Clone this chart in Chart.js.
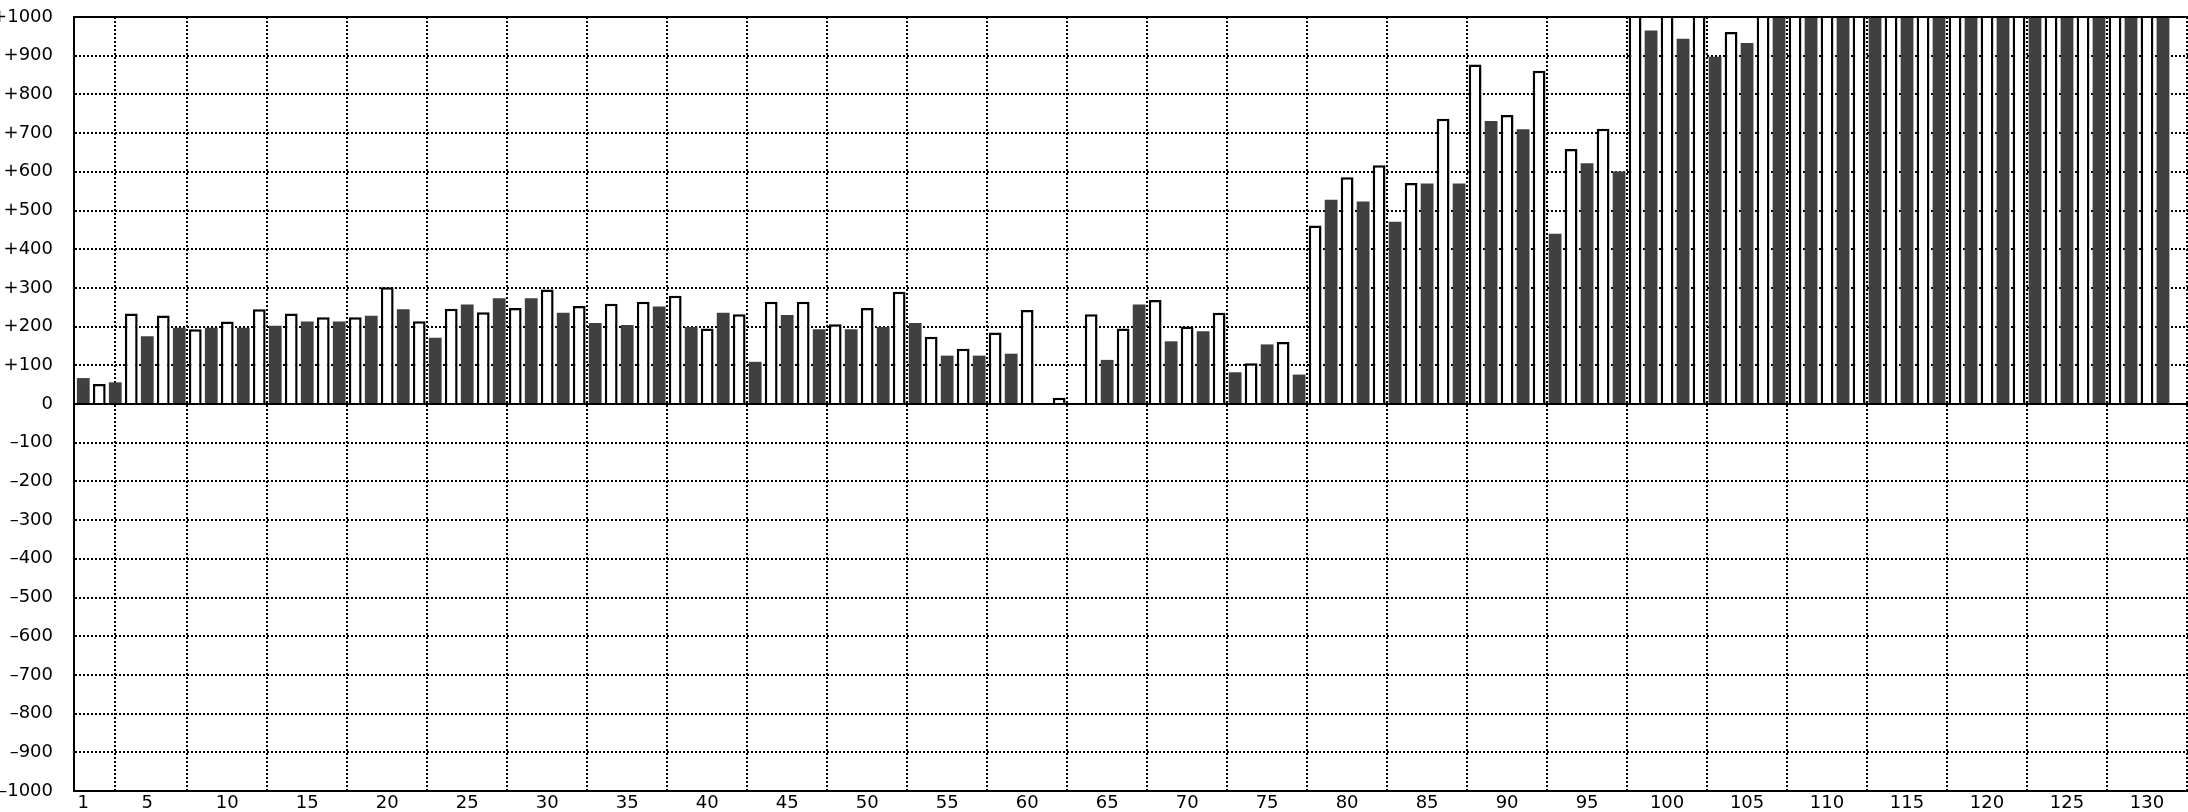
<!DOCTYPE html>
<html>
<head>
<meta charset="utf-8">
<script src="https://cdn.jsdelivr.net/npm/chart.js@4"></script>
<style>
  html, body { margin: 0; padding: 0; background: #fff; overflow: hidden; }
  #wrap { position: absolute; left: -20px; top: 0; width: 2231px; height: 812px; }
</style>
</head>
<body>
<div id="wrap"><canvas id="chart"></canvas></div>
<script>
const categories = []
for (let i = 1; i <= 131; i++) categories.push(i)

// values; bars above +1000 run off the top and are clipped
const values = [
  67, 52, 56, 234, 175, 229, 197, 193, 197, 213,
  197, 245, 202, 234, 213, 224, 213, 224, 228, 302,
  245, 214, 171, 246, 257, 237, 273, 248, 273, 296,
  236, 253, 209, 259, 204, 264, 252, 280, 199, 195,
  236, 232, 109, 264, 230, 264, 193, 206, 193, 248,
  199, 290, 209, 174, 125, 143, 125, 185, 130, 243,
  0, 16, 0, 232, 114, 195, 257, 269, 162, 200,
  188, 236, 82, 105, 154, 160, 76, 461, 528, 586,
  523, 617, 471, 571, 570, 737, 570, 877, 731, 747,
  710, 861, 440, 659, 622, 711, 601, 1050, 965, 1050,
  944, 1050, 897, 961, 933, 1050, 1050, 1050, 1050, 1050,
  1050, 1050, 1050, 1050, 1050, 1050, 1050, 1050, 1050, 1050,
  1050, 1050, 1050, 1050, 1050, 1050, 1050, 1050, 1050, 1050,
  1050
]

const xTicks = [1, 5, 10, 15, 20, 25, 30, 35, 40, 45, 50, 55, 60, 65, 70, 75, 80,
  85, 90, 95, 100, 105, 110, 115, 120, 125, 130]

const FONT = { family: 'DejaVu Sans', size: 18 }

const frameLines = {
  id: 'frameLines',
  afterDatasetsDraw(chart) {
    const { ctx, chartArea, scales } = chart
    const y0 = scales.y.getPixelForValue(0)
    ctx.save()
    ctx.strokeStyle = '#000'
    ctx.lineWidth = 2
    ctx.beginPath()
    ctx.moveTo(chartArea.left, chartArea.top)
    ctx.lineTo(chartArea.right, chartArea.top)
    ctx.moveTo(chartArea.left, y0)
    ctx.lineTo(chartArea.right, y0)
    ctx.stroke()
    ctx.restore()
  }
}

const isDark = (ctx) => ctx.dataIndex % 2 === 0

new Chart(document.getElementById('chart'), {
  type: 'bar',
  data: {
    datasets: [{
      data: categories.map((c, i) => ({ x: c, y: values[i] })),
      backgroundColor: (ctx) => isDark(ctx) ? '#404040' : '#ffffff',
      borderColor: '#000000',
      borderWidth: (ctx) => isDark(ctx) ? 0 : 2.5,
      borderSkipped: 'start',
      categoryPercentage: 1,
      barPercentage: 0.8,
      clip: 0
    }]
  },
  options: {
    responsive: true,
    maintainAspectRatio: false,
    animation: false,
    layout: { padding: { top: 17, left: 0, right: 0, bottom: 0 } },
    plugins: {
      legend: { display: false },
      tooltip: { enabled: false }
    },
    scales: {
      x: {
        type: 'linear',
        offset: false,
        min: 0.42,
        max: 134,
        afterBuildTicks: (scale) => {
          scale.ticks = xTicks.map(v => ({ value: v }))
        },
        afterFit: (scale) => {
          scale.height = 21
          scale.paddingLeft = 0
          scale.paddingRight = 0
        },
        ticks: {
          autoSkip: false,
          maxRotation: 0,
          padding: 2,
          color: '#000',
          font: FONT,
          callback: (v) => String(v)
        },
        grid: { color: '#000', lineWidth: 2, drawTicks: false },
        border: { display: true, color: '#000', width: 2, dash: [2, 2] }
      },
      y: {
        min: -1000,
        max: 1000,
        afterFit: (scale) => {
          scale.width = 94
          scale.paddingTop = 0
          scale.paddingBottom = 0
        },
        ticks: {
          stepSize: 100,
          padding: 21,
          color: '#000',
          font: FONT,
          callback: (v) => v > 0 ? '+' + v : (v < 0 ? '\u2013' + Math.abs(v) : '0')
        },
        grid: { color: '#000', lineWidth: 2, drawTicks: false },
        border: { display: true, color: '#000', width: 2, dash: [2, 2] }
      }
    }
  },
  plugins: [frameLines]
})
</script>
</body>
</html>
